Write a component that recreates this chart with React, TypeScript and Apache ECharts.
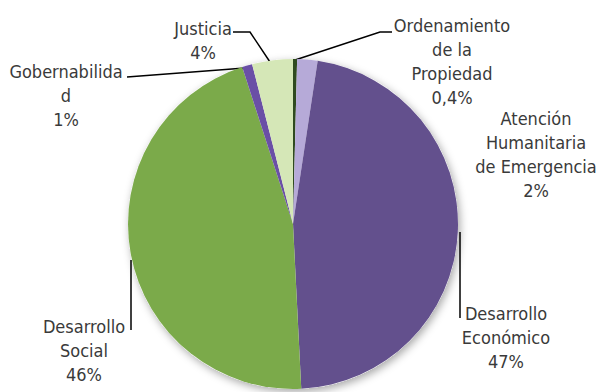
import React, { useEffect, useRef } from "react";
import * as echarts from "echarts";

const categories = [
  "Ordenamiento\nde la\nPropiedad",
  "Atención\nHumanitaria\nde Emergencia",
  "Desarrollo\nEconómico",
  "Desarrollo\nSocial",
  "Gobernabilida\nd",
  "Justicia",
];
const values = [0.4, 2, 47, 46, 1, 4];
const percentLabels = ["0,4%", "2%", "47%", "46%", "1%", "4%"];
const colors = ["#2f4a1f", "#b6aad8", "#63508d", "#7baa4a", "#6a4fa6", "#d5e7b7"];

// label layout: [centerX, middleY, line points]
const labelPos: { x: number; y: number; line?: number[][] }[] = [
  { x: 452, y: 61, line: [[392, 32], [380, 32], [292, 61]] },
  { x: 536, y: 154 },
  { x: 506, y: 337, line: [[460, 318], [460, 232]] },
  { x: 84, y: 350, line: [[131, 330], [131, 260]] },
  { x: 66, y: 95, line: [[127, 77], [245, 68]] },
  { x: 203, y: 40, line: [[233, 32], [250, 32], [270, 62]] },
];

const FONT = "'Liberation Sans Narrow', 'Arial Narrow', 'DejaVu Sans Condensed', sans-serif";

export default function App() {
  const ref = useRef<HTMLDivElement>(null);
  useEffect(() => {
    if (!ref.current) return;
    const chart = echarts.init(ref.current, undefined, { renderer: "svg" });
    chart.setOption({
      animation: false,
      backgroundColor: "#ffffff",
      series: [
        {
          type: "pie",
          silent: true,
          center: [293, 224],
          radius: 165,
          z: 1,
          label: { show: false },
          labelLine: { show: false },
          data: [{ value: 1, itemStyle: { color: "#ffffff", shadowBlur: 8, shadowOffsetX: 2, shadowOffsetY: 3, shadowColor: "rgba(0,0,0,0.35)" } }],
        },
        {
          type: "pie",
          center: [293, 224],
          radius: 165,
          startAngle: 90,
          clockwise: true,
          z: 2,
          data: categories.map((c, i) => ({
            name: c,
            value: values[i],
            itemStyle: { color: colors[i] },
            labelLine: { show: !!labelPos[i].line },
          })),
          itemStyle: { borderWidth: 0 },
          label: {
            show: true,
            position: "outside",
            formatter: (p: any) => `${p.name}\n${percentLabels[p.dataIndex]}`,
            fontFamily: FONT,
            fontSize: 18,
            lineHeight: 24,
            color: "#3a3a3a",
            align: "center",
            overflow: "none",
          },
          labelLine: {
            show: true,
            lineStyle: { color: "#000000", width: 1.5 },
          },
          labelLayout: (p: any) => {
            const lp = labelPos[p.dataIndex];
            const r: any = {
              x: lp.x,
              y: lp.y,
              align: "center",
              verticalAlign: "middle",
            };
            if (lp.line) r.labelLinePoints = lp.line;
            return r;
          },
        },
      ],
    });
    return () => chart.dispose();
  }, []);
  return (
    <div
      ref={ref}
      style={{ position: "fixed", left: 0, top: 0, width: 597, height: 392 }}
    />
  );
}
